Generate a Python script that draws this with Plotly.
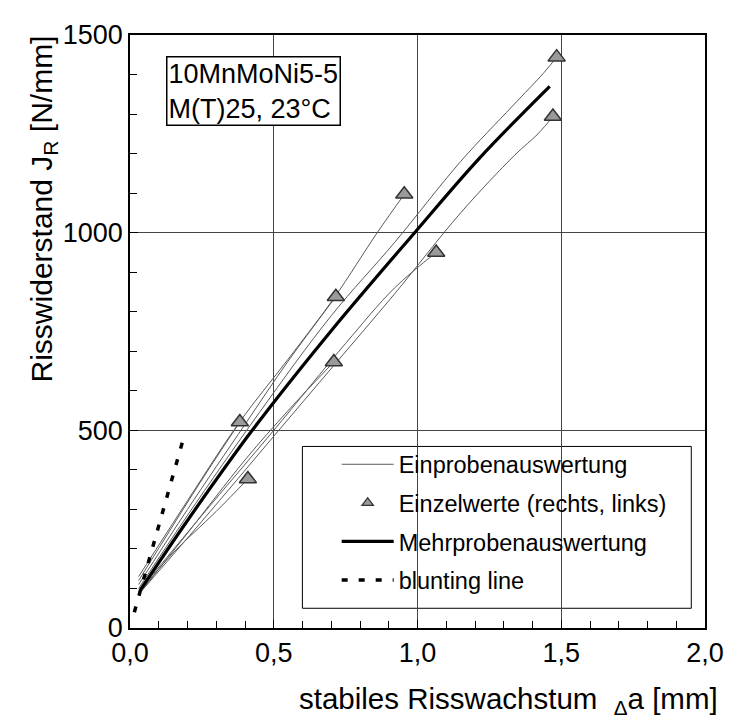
import plotly.graph_objects as go

# ---------------- data ----------------
# single-specimen curves (Einprobenauswertung), 8 curves
c1_da = [0.03, 0.12, 0.25, 0.382]
c1_J = [120, 225, 375, 521]
c2_da = [0.03, 0.15, 0.30, 0.41]
c2_J = [88, 190, 295, 377]
c3_da = [0.03, 0.20, 0.40, 0.55, 0.716]
c3_J = [110, 300, 515, 675, 838]
c4_da = [0.03, 0.20, 0.40, 0.55, 0.709]
c4_J = [85, 240, 425, 550, 673]
c5_da = [0.03, 0.20, 0.38, 0.55, 0.71, 0.86, 0.954]
c5_J = [130, 322, 520, 680, 835, 1000, 1097]
c6_da = [0.03, 0.20, 0.45, 0.70, 0.92, 1.15, 1.33, 1.44, 1.484]
c6_J = [100, 285, 545, 790, 975, 1180, 1320, 1405, 1444]
c7_da = [0.03, 0.25, 0.50, 0.75, 0.92, 1.065]
c7_J = [92, 285, 500, 720, 860, 950]
c8_da = [0.03, 0.25, 0.50, 0.71, 0.92, 1.15, 1.338, 1.419, 1.471]
c8_J = [85, 270, 485, 665, 845, 1050, 1196, 1250, 1294]

# individual values (rechts, links)
pts_da = [0.382, 0.41, 0.716, 0.709, 0.954, 1.065, 1.484, 1.471]
pts_J = [521, 377, 838, 673, 1097, 950, 1444, 1294]

# multi-specimen curve (Mehrprobenauswertung)
mp_da = [0.035, 0.20, 0.42, 0.70, 0.99, 1.215, 1.46]
mp_J = [95, 272, 495, 752, 1000, 1188, 1370]

# blunting line
bl_da = [0.015, 0.19]
bl_J = [40, 490]

x_tickvals = [0.0, 0.5, 1.0, 1.5, 2.0]
x_ticktext = ["0,0", "0,5", "1,0", "1,5", "2,0"]
y_tickvals = [0, 500, 1000, 1500]
y_ticktext = ["0", "500", "1000", "1500"]

# ---------------- figure ----------------
FONT = "Liberation Sans, Arial, sans-serif"
fig = go.Figure()

curves = [(c1_da, c1_J), (c2_da, c2_J), (c3_da, c3_J), (c4_da, c4_J),
          (c5_da, c5_J), (c6_da, c6_J), (c7_da, c7_J), (c8_da, c8_J)]
for i, (xs, ys) in enumerate(curves):
    fig.add_trace(go.Scatter(
        x=xs, y=ys, mode="lines", line=dict(color="#5a5a5a", width=1, shape="spline"),
        name="Einprobenauswertung", legendgroup="g1", showlegend=(i == 0)))

fig.add_trace(go.Scatter(
    x=mp_da, y=mp_J, mode="lines", line=dict(color="black", width=3.2, shape="spline"),
    name="Mehrprobenauswertung", legendgroup="g3", showlegend=False))

fig.add_trace(go.Scatter(
    x=bl_da, y=bl_J, mode="lines", line=dict(color="black", width=3.5, dash="6px,11px"),
    name="blunting line", legendgroup="g4", showlegend=False))

fig.add_trace(go.Scatter(
    x=pts_da, y=pts_J, mode="markers",
    marker=dict(symbol="triangle-up", size=15, color="#9a9a9a",
                line=dict(color="#333333", width=1.5)),
    name="Einzelwerte (rechts, links)", showlegend=False))

# legend-only entries (in order)
fig.add_trace(go.Scatter(
    x=[None], y=[None], mode="markers",
    marker=dict(symbol="triangle-up", size=10, color="#9a9a9a",
                line=dict(color="#333333", width=1.2)),
    name="Einzelwerte (rechts, links)", legendgroup="g2"))
fig.add_trace(go.Scatter(
    x=[None], y=[None], mode="lines", line=dict(color="black", width=3.2),
    name="Mehrprobenauswertung", legendgroup="g3"))
fig.add_trace(go.Scatter(
    x=[None], y=[None], mode="lines", line=dict(color="black", width=3.5, dash="6px,11px"),
    name="blunting line", legendgroup="g4"))

axis_common = dict(
    showline=True, linecolor="black", linewidth=1.5, mirror=True,
    showgrid=True, gridcolor="#444444", gridwidth=1,
    ticks="inside", ticklen=8, tickcolor="black", tickwidth=1,
    zeroline=False,
    tickfont=dict(family=FONT, size=27, color="black"),
)

# page body has an 8px margin: figure is 728x712, placed at (8, 8)
fig.update_layout(
    width=728, height=712,
    margin=dict(l=122, r=19, t=19, b=92),
    paper_bgcolor="white", plot_bgcolor="white",
    font=dict(family=FONT, color="black"),
    xaxis=dict(range=[0, 2], tickvals=x_tickvals, ticktext=x_ticktext,
               minor=dict(dtick=0.1, ticks="inside", ticklen=7, tickcolor="black", showgrid=False),
               **axis_common),
    yaxis=dict(range=[0, 1500], tickvals=y_tickvals, ticktext=y_ticktext,
               minor=dict(dtick=100, ticks="inside", ticklen=7, tickcolor="black", showgrid=False),
               **axis_common),
    legend=dict(x=(341 - 130) / 587, y=(628 - 440) / 601, xanchor="left", yanchor="top",
                bgcolor="rgba(0,0,0,0)", borderwidth=0, itemwidth=52,
                tracegroupgap=5, font=dict(family=FONT, size=23.5, color="black")),
    showlegend=True,
)

# legend frame
fig.add_shape(type="rect", xref="paper", yref="paper",
              x0=(306 - 130) / 587, x1=(703 - 130) / 587,
              y0=(628 - 608) / 601, y1=(628 - 444) / 601,
              line=dict(color="black", width=1), fillcolor="white", layer="below")

# material annotation
fig.add_annotation(xref="paper", yref="paper", x=(167 - 130) / 587, y=(628 - 48) / 601,
                   xanchor="left", yanchor="top", align="left", showarrow=False,
                   text="10MnMoNi5-5<br>M(T)25, 23°C",
                   font=dict(family=FONT, size=27, color="black"),
                   bordercolor="black", borderwidth=1.5, borderpad=1, bgcolor="white")

# axis titles
fig.add_annotation(xref="paper", yref="paper", x=(42 - 130) / 587, y=(628 - 203) / 601,
                   xanchor="center", yanchor="middle", textangle=-90, showarrow=False,
                   text="Risswiderstand J<sub>R</sub> [N/mm]",
                   font=dict(family=FONT, size=30, color="black"))
fig.add_annotation(xref="paper", yref="paper", x=(732 - 130) / 587, y=(628 - 701) / 601,
                   xanchor="right", yanchor="middle", showarrow=False,
                   text="stabiles Risswachstum\u00a0 <sub>Δ</sub>a [mm]",
                   font=dict(family=FONT, size=29.5, color="black"))

fig.write_html("out.html")
